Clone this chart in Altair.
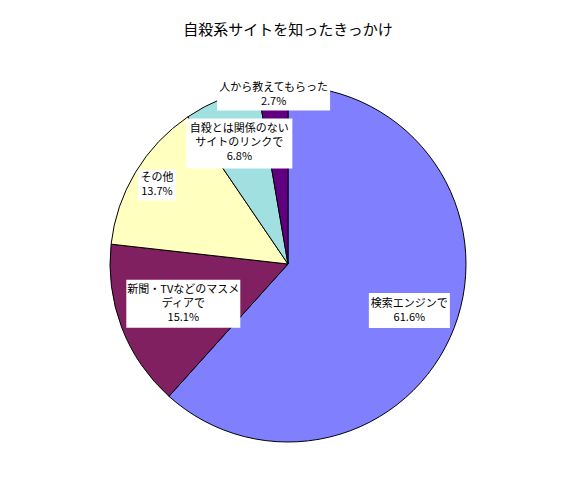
import numpy as np
import pandas as pd
import altair as alt

title_text = "自殺系サイトを知ったきっかけ"
categories = ["検索エンジンで", "新聞・TVなどのマスメディアで", "その他",
              "自殺とは関係のないサイトのリンクで", "人から教えてもらった"]
values = [61.6, 15.1, 13.7, 6.8, 2.7]
label_texts = ["検索エンジンで\n61.6%", "新聞・TVなどのマスメ\nディアで\n15.1%", "その他\n13.7%",
               "自殺とは関係のない\nサイトのリンクで\n6.8%", "人から教えてもらった\n2.7%"]
colors = ["#8080FF", "#802060", "#FFFFC0", "#A0E0E0", "#600080"]

# styling / layout helpers (pixels)
label_radius = [130, 112, 153, 130, 170]
box_w = [81, 114, 38, 106, 113]
box_h = [35, 48, 31, 50, 32]
LINE_H = 14

W, H = 561, 465
CX, CY = 280, 256
R = 178

vals = np.array(values)
total = vals.sum()
start = np.cumsum(vals) - vals
mid = (start + vals / 2) / total * 2 * np.pi
lr = np.array(label_radius)
lx = lr * np.sin(mid)
ly = lr * np.cos(mid)
nlines = np.array([t.count("\n") + 1 for t in label_texts])

df = pd.DataFrame({
    "cat": categories,
    "value": values,
    "idx": list(range(len(values))),
    "label": label_texts,
    "lx": lx,
    "ly": ly + (nlines - 1) * LINE_H / 2,
    "x1": lx - np.array(box_w) / 2,
    "x2": lx + np.array(box_w) / 2,
    "y1": ly - np.array(box_h) / 2,
    "y2": ly + np.array(box_h) / 2,
})

xs = alt.Scale(domain=[-CX, W - CX], nice=False, zero=False)
ys = alt.Scale(domain=[-(H - CY), CY], nice=False, zero=False)

pie = alt.Chart(df).mark_arc(outerRadius=R, stroke="black", strokeWidth=1).encode(
    theta=alt.Theta("value:Q", stack=True),
    color=alt.Color("cat:N", scale=alt.Scale(domain=categories, range=colors), legend=None),
    order=alt.Order("idx:Q"),
    x=alt.value(CX),
    y=alt.value(CY),
)

boxes = alt.Chart(df).mark_rect(fill="white").encode(
    x=alt.X("x1:Q", scale=xs, axis=None),
    x2="x2:Q",
    y=alt.Y("y1:Q", scale=ys, axis=None),
    y2="y2:Q",
)

labels = alt.Chart(df).mark_text(
    lineBreak="\n", fontSize=11, lineHeight=LINE_H, font="Noto Sans CJK JP", color="black",
    baseline="middle"
).encode(
    x=alt.X("lx:Q", scale=xs, axis=None),
    y=alt.Y("ly:Q", scale=ys, axis=None),
    text="label:N",
)

tdf = pd.DataFrame({"t": [title_text], "x": [0], "y": [CY - 22]})
title = alt.Chart(tdf).mark_text(fontSize=15, font="Noto Sans CJK JP", color="black").encode(
    x=alt.X("x:Q", scale=xs, axis=None),
    y=alt.Y("y:Q", scale=ys, axis=None),
    text="t:N",
)

chart = alt.layer(pie, boxes, labels, title).properties(
    width=W, height=H, autosize=alt.AutoSizeParams(type="none"), padding=0,
    background="white",
).configure_view(stroke=None)

chart.save("out.html", embed_options={"renderer": "svg", "actions": False})
